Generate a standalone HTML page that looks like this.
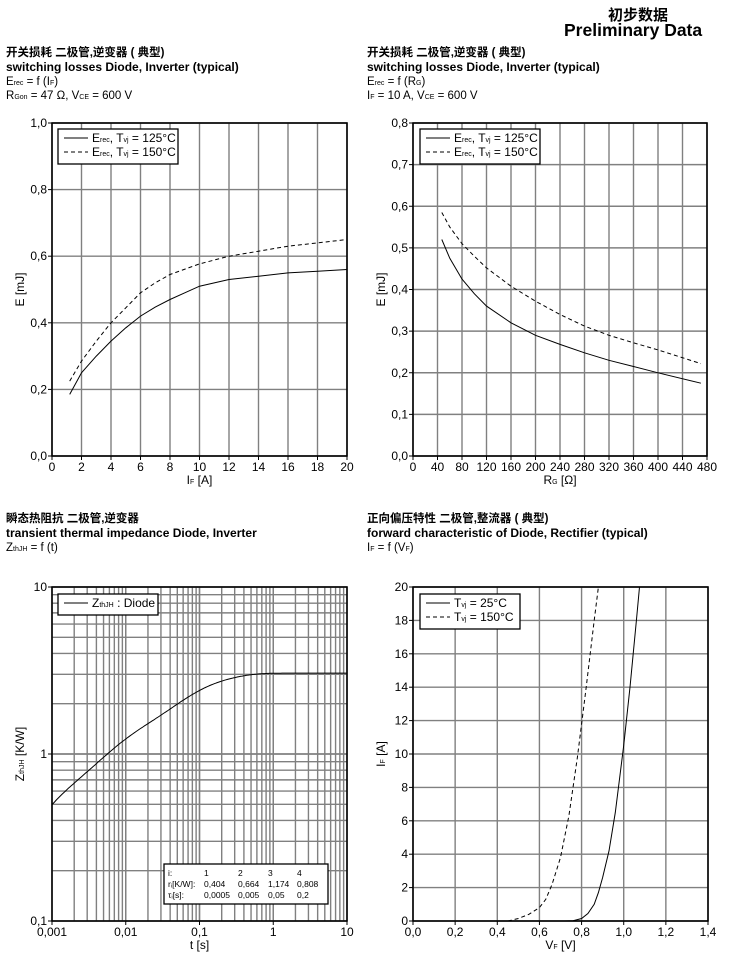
<!DOCTYPE html>
<html><head><meta charset="utf-8">
<style>
html,body{margin:0;padding:0;background:#fff;}
body{width:740px;height:957px;overflow:hidden;font-family:"Liberation Sans","Noto Sans CJK SC",sans-serif;}
</style></head><body>
<svg id="s" width="740" height="957" xmlns="http://www.w3.org/2000/svg" font-family="Liberation Sans, Noto Sans CJK SC, sans-serif"></svg>
<script>
const S=document.getElementById('s');let h='';
function T(x,y,t,o){o=o||{};h+=`<text x="${x}" y="${y}" font-size="${o.fs||12}" ${o.b?'font-weight="bold"':''} text-anchor="${o.a||'start'}" ${o.tr?`transform="${o.tr}"`:''} fill="#000">${t}</text>`;}
function L(x1,y1,x2,y2,st){h+=`<line x1="${x1}" y1="${y1}" x2="${x2}" y2="${y2}" ${st}/>`;}
const G='stroke="#808080" stroke-width="1.4"';
T(608,20,'初步数据',{fs:15,b:1});T(564,36,'Preliminary Data',{fs:17.5,b:1});
function title(x,y,cn,en,l3,l4){T(x,y,cn,{fs:11.5,b:1});T(x,y+15,en,{fs:12,b:1});T(x,y+29,l3,{fs:11.5});if(l4)T(x,y+43,l4,{fs:11.5});}
title(6,56,'开关损耗 二极管,逆变器 ( 典型)','switching losses  Diode, Inverter (typical)','E<tspan font-size="7">rec</tspan> = f (I<tspan font-size="7">F</tspan>)','R<tspan font-size="7">Gon</tspan> = 47 Ω, V<tspan font-size="7">CE</tspan> = 600 V');
title(367,56,'开关损耗 二极管,逆变器 ( 典型)','switching losses  Diode, Inverter (typical)','E<tspan font-size="7">rec</tspan> = f (R<tspan font-size="7">G</tspan>)','I<tspan font-size="7">F</tspan> = 10 A, V<tspan font-size="7">CE</tspan> = 600 V');
title(6,522,'瞬态热阻抗  二极管,逆变器','transient thermal impedance  Diode, Inverter','Z<tspan font-size="7">thJH</tspan> = f (t)');
title(367,522,'正向偏压特性  二极管,整流器 ( 典型)','forward characteristic of  Diode, Rectifier (typical)','I<tspan font-size="7">F</tspan> = f (V<tspan font-size="7">F</tspan>)');
function lin(X0,Y0,X1,Y1,xmin,xmax,ymin,ymax,xs,ys,xl,yl,xd,yd,curves,xlab,ylab){
 const fx=v=>X0+(v-xmin)/(xmax-xmin)*(X1-X0),fy=v=>Y1-(v-ymin)/(ymax-ymin)*(Y1-Y0);
 for(let v=xmin;v<=xmax+1e-9;v+=xs)L(fx(v),Y0,fx(v),Y1,G);
 for(let v=ymin;v<=ymax+1e-9;v+=ys)L(X0,fy(v),X1,fy(v),G);
 for(let v=xmin;v<=xmax+1e-9;v+=xl){L(fx(v),Y1,fx(v),Y1+4,'stroke="#000"');T(fx(v),Y1+15,v.toFixed(xd).replace('.',','),{a:'middle'});}
 for(let v=ymin;v<=ymax+1e-9;v+=yl){L(X0-4,fy(v),X0,fy(v),'stroke="#000"');T(X0-5,fy(v)+4,v.toFixed(yd).replace('.',','),{a:'end'});}
 h+=`<rect x="${X0}" y="${Y0}" width="${X1-X0}" height="${Y1-Y0}" fill="none" stroke="#000" stroke-width="1.6"/>`;
 curves.forEach(c=>{h+=`<polyline fill="none" stroke="#000" stroke-width="1" ${c.d?'stroke-dasharray="4,3"':''} points="${c.p.map(p=>fx(p[0]).toFixed(1)+','+fy(p[1]).toFixed(1)).join(' ')}"/>`;});
 T((X0+X1)/2,Y1+28,xlab,{a:'middle'});T(0,0,ylab,{a:'middle',tr:`translate(${X0-28},${(Y0+Y1)/2}) rotate(-90)`});
}
function legend(x,y,w,items){h+=`<rect x="${x}" y="${y}" width="${w}" height="${items.length*14+7}" fill="#fff" stroke="#000" stroke-width="1.3"/>`;
 items.forEach((it,i)=>{const yy=y+13+i*14;L(x+6,yy-4,x+30,yy-4,'stroke="#000" '+(it.d?'stroke-dasharray="4,3"':''));T(x+34,yy,it.t,{fs:12});});}
const ER='E<tspan font-size="7">rec</tspan>, T<tspan font-size="7">vj</tspan> = ';
lin(52,123,347,456,0,20,0,1,2,0.2,2,0.2,0,1,[
 {p:[[1.2,.185],[2,.25],[3,.3],[4,.345],[5,.385],[6,.42],[7,.447],[8,.47],[9,.49],[10,.51],[12,.53],[14,.54],[16,.55],[18,.555],[20,.56]]},
 {d:1,p:[[1.2,.225],[2,.285],[3,.345],[4,.4],[5,.445],[6,.49],[7,.52],[8,.545],[10,.577],[12,.6],[14,.615],[16,.63],[18,.64],[20,.65]]}],'I<tspan font-size="7">F</tspan> [A]','E [mJ]');
legend(58,129,120,[{t:ER+'125°C'},{d:1,t:ER+'150°C'}]);
lin(413,123,707,456,0,480,0,0.8,40,0.1,40,0.1,0,1,[
 {p:[[47,.52],[60,.475],[80,.425],[100,.39],[120,.36],[160,.32],[200,.29],[240,.268],[280,.248],[320,.23],[360,.215],[400,.2],[470,.175]]},
 {d:1,p:[[47,.585],[60,.55],[80,.51],[100,.48],[120,.452],[160,.408],[200,.372],[240,.34],[280,.312],[320,.29],[360,.272],[400,.255],[470,.222]]}],'R<tspan font-size="7">G</tspan> [Ω]','E [mJ]');
legend(420,129,120,[{t:ER+'125°C'},{d:1,t:ER+'150°C'}]);
lin(413,587,708,921,0,1.4,0,20,0.2,2,0.2,2,1,0,[
 {p:[[0.72,0],[0.76,0.02],[0.8,0.15],[0.83,0.45],[0.86,1],[0.88,1.7],[0.9,2.6],[0.93,4.2],[0.96,6.5],[1.0,10.5],[1.03,14],[1.06,18],[1.075,20]]},
 {d:1,p:[[0.45,0],[0.5,0.15],[0.55,0.4],[0.6,0.8],[0.63,1.3],[0.66,2.2],[0.7,3.8],[0.74,6.3],[0.78,9.8],[0.82,13.8],[0.86,18],[0.88,20]]}],'V<tspan font-size="7">F</tspan> [V]','I<tspan font-size="7">F</tspan> [A]');
legend(420,594,100,[{t:'T<tspan font-size="7">vj</tspan> = 25°C'},{d:1,t:'T<tspan font-size="7">vj</tspan> = 150°C'}]);
(function(){const X0=52,X1=347,Y0=587,Y1=921;
 const fx=v=>X0+(Math.log10(v)+3)/4*(X1-X0),fy=v=>Y1-(Math.log10(v)+1)/2*(Y1-Y0);
 for(let d=-3;d<1;d++)for(let k=1;k<=10;k++){const v=k*Math.pow(10,d);L(fx(v),Y0,fx(v),Y1,G);}
 for(let d=-1;d<1;d++)for(let k=1;k<=10;k++){const v=k*Math.pow(10,d);L(X0,fy(v),X1,fy(v),G);}
 ['0,001','0,01','0,1','1','10'].forEach((t,i)=>{const x=X0+i*(X1-X0)/4;L(x,Y1,x,Y1+4,'stroke="#000"');T(x,Y1+15,t,{a:'middle'});});
 ['0,1','1','10'].forEach((t,i)=>{const y=Y1-i*(Y1-Y0)/2;L(X0-4,y,X0,y,'stroke="#000"');T(X0-5,y+4,t,{a:'end'});});
 h+=`<rect x="${X0}" y="${Y0}" width="${X1-X0}" height="${Y1-Y0}" fill="none" stroke="#000" stroke-width="1.6"/>`;
 const r=[.404,.664,1.174,.808],ta=[.0005,.005,.05,.2];let pts=[];
 for(let i=0;i<=200;i++){const t=Math.pow(10,-3+i*4/200);let z=0;for(let j=0;j<4;j++)z+=r[j]*(1-Math.exp(-t/ta[j]));pts.push(fx(t).toFixed(1)+','+fy(z).toFixed(1));}
 h+=`<polyline fill="none" stroke="#000" stroke-width="1" points="${pts.join(' ')}"/>`;
 T((X0+X1)/2,Y1+28,'t [s]',{a:'middle'});T(0,0,'Z<tspan font-size="7">thJH</tspan> [K/W]',{a:'middle',tr:`translate(24,${(Y0+Y1)/2}) rotate(-90)`});
 legend(58,594,100,[{t:'Z<tspan font-size="7">thJH</tspan> : Diode'}]);
 h+=`<rect x="164" y="864" width="164" height="40" fill="#fff" stroke="#000" stroke-width="1.3"/>`;
 const rows=[['i:','1','2','3','4'],['rᵢ[K/W]:','0,404','0,664','1,174','0,808'],['τᵢ[s]:','0,0005','0,005','0,05','0,2']];
 const cx=[168,204,238,268,297];rows.forEach((rw,i)=>rw.forEach((c,j)=>T(cx[j],876+i*11,c,{fs:8.5})));
})();
S.innerHTML=h;
</script>
</body></html>
